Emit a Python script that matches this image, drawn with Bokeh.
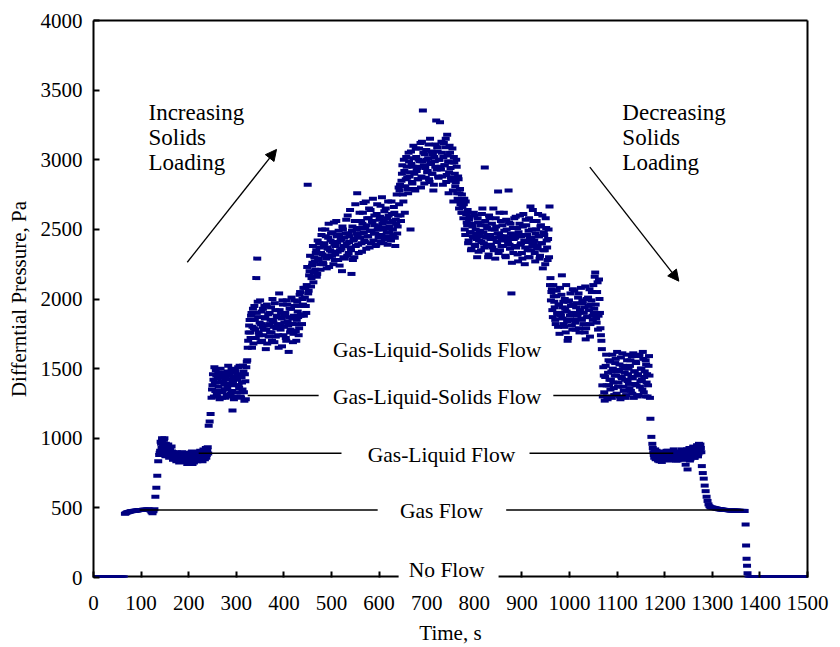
import numpy as np
from bokeh.plotting import figure
from bokeh.models import Label, Arrow, NormalHead, FixedTicker, ColumnDataSource, LinearAxis
from bokeh.embed import file_html
from bokeh.resources import INLINE

# ---------------- data (differential pressure, Pa) ----------------
# each phase: start time (s), sampling step (s), pressure readings
p_no_flow_1 = [0, 0, 0, 0, 0, 0, 0, 0, 0, 0, 0, 0, 0, 0, 0, 0, 0, 0, 0, 0,
               0, 0, 0, 0, 0, 0, 0, 0, 0, 0, 0, 0, 0]
p_gas_1 = [458, 462, 466, 469, 471, 473, 475, 476, 477, 478, 479, 480, 481, 482, 483, 484,
           484, 485, 485, 486, 486, 487, 487, 488, 488, 488, 486, 480, 468, 462, 475, 490]
p_rise_gl = [580, 645, 730, 835]
p_gas_liquid_1 = [880, 910, 960, 1000, 940, 990, 905, 960, 880, 930, 870, 915, 890, 940, 865, 900,
                  850, 880, 835, 890, 860, 825, 875, 850, 900, 840, 870, 830, 885, 850, 820, 870,
                  845, 895, 860, 815, 880, 850, 900, 870, 835, 885, 860, 910, 845, 880, 865, 900,
                  850, 930, 880, 935]
p_gas_liquid_1_odd = [895, 975, 930, 985, 915, 1000, 870, 945, 900, 955, 860, 920, 875, 905, 845,
                      885, 870, 860, 900, 840, 885, 850, 830, 880, 860, 845, 895, 835, 870, 815,
                      860, 880, 830, 870, 905, 850, 825, 890, 860, 880, 840, 900, 870, 850, 890,
                      835, 920, 870, 900, 860, 915, 890]
p_rise_gls = [1090, 1120, 1175]
p_gls_1 = [1290, 1380, 1420, 1510, 1340, 1450, 1300, 1470, 1400, 1330, 1440, 1290, 1410, 1470,
           1350, 1430, 1310, 1480, 1390, 1450, 1320, 1500, 1200, 1440, 1380, 1480, 1300, 1420,
           1510, 1360, 1450, 1290, 1400, 1520, 1330, 1460, 1280, 1550]
p_gls_1_odd = [1350, 1460, 1300, 1400, 1490, 1320, 1430, 1370, 1280, 1500, 1410, 1340, 1460,
               1390, 1290, 1450, 1360, 1520, 1300, 1420, 1470, 1340, 1400, 1280, 1490, 1430,
               1330, 1460, 1380, 1520, 1300, 1440, 1350, 1480, 1270, 1410, 1510, 1560]
p_gls_2 = [1650, 1760, 1850, 1720, 1900, 1800, 1680, 1950, 1780, 2150, 2290, 1870, 1740, 1990,
           1820, 1700, 1930, 1780, 1860, 1640, 1960, 1810, 1730, 1900, 1850, 1760, 2000, 1830,
           1690, 1920, 1790, 1870, 1740, 2040, 1820, 1900, 1660, 1960, 1800, 1880, 1720, 1990,
           1840, 1620, 1930, 1780, 2010, 1860, 1750, 1950, 1820, 1700, 1980, 1870, 1790, 2050,
           1890, 1820, 1960]
p_gls_2_odd = [1700, 1810, 1760, 1880, 1650, 1930, 1790, 1850, 1720, 1900, 1980, 1760, 1830,
               1690, 1910, 1800, 1740, 1950, 1870, 1780, 1680, 1890, 1820, 1760, 1940, 1700,
               1850, 1800, 1970, 1730, 1880, 1810, 1650, 1920, 1780, 1860, 1990, 1740, 1830,
               1900, 1700, 1960, 1810, 1870, 1760, 1930, 1820, 1690, 1880, 1990, 1770, 1850,
               1910, 1740, 2030, 1880, 1950, 2000, 2080]
p_gls_3 = [1880, 2010, 1950, 2100, 2820, 2060, 2200, 1990, 2150, 2260, 2120, 2300, 2210, 2350,
           2180, 2290, 2400, 2250, 2330, 2500, 2260, 2380, 2310, 2450, 2220, 2360, 2540, 2300,
           2420, 2340, 2480, 2250, 2390, 2320, 2560, 2410, 2280, 2460, 2350, 2430, 2200, 2500,
           2380, 2290, 2470, 2400, 2600, 2330, 2450, 2370, 2180, 2520, 2420, 2300, 2680, 2470,
           2760, 2390, 2510, 2440, 2560, 2340, 2620, 2480, 2410, 2700, 2530, 2450, 2580, 2370,
           2640, 2490, 2550, 2420, 2600, 2470, 2390, 2680, 2520, 2450, 2590, 2410, 2730, 2500,
           2560, 2430, 2650, 2480, 2390, 2600, 2520, 2440, 2700, 2560, 2460, 2620, 2380, 2540,
           2470, 2600]
p_gls_3_odd = [1950, 2080, 1900, 2230, 2040, 2170, 2310, 2090, 2240, 2380, 2190, 2270, 2330,
               2160, 2420, 2280, 2370, 2210, 2460, 2320, 2250, 2400, 2500, 2290, 2370, 2440,
               2230, 2350, 2470, 2310, 2410, 2550, 2280, 2380, 2450, 2340, 2490, 2240, 2420,
               2360, 2520, 2300, 2440, 2380, 2570, 2310, 2470, 2410, 2640, 2350, 2490, 2280,
               2430, 2560, 2380, 2500, 2450, 2330, 2620, 2470, 2400, 2540, 2690, 2420, 2510,
               2360, 2580, 2450, 2650, 2490, 2400, 2560, 2720, 2470, 2530, 2380, 2610, 2500,
               2440, 2570, 2670, 2460, 2540, 2400, 2630, 2510, 2450, 2580, 2700, 2480, 2550,
               2420, 2610, 2500, 2660, 2440, 2570, 2750, 2520, 2800]
p_gls_4 = [2680, 2820, 2560, 2900, 2750, 3000, 2620, 2860, 2950, 2790, 3050, 2880, 2500, 2970,
           2830, 3100, 2900, 2780, 3020, 2940, 2860, 3080, 2990, 2800, 3130, 3354, 2960, 3040,
           2870, 3000, 2920, 3110, 2840, 2980, 3060, 2900, 2780, 3020, 2950, 3282, 3090, 2880,
           3000, 3270, 2930, 3050, 2820, 3120, 2960, 3150, 2890, 3030, 2760, 3100, 2940, 2850,
           3080, 2700, 2980, 2810, 3000, 2760, 2880, 2650, 2790, 2700]
p_gls_4_odd = [2780, 2600, 2850, 2960, 2700, 2920, 2810, 3020, 2870, 2760, 2990, 2910, 3060,
               2840, 2950, 3010, 2790, 3080, 2920, 2860, 3000, 2950, 3120, 2880, 2990, 3050,
               2830, 2940, 3070, 2910, 3010, 2860, 3150, 2970, 2900, 3040, 2820, 2990, 3110,
               2930, 3060, 2870, 3000, 2950, 3130, 2880, 3020, 2960, 3090, 2840, 3180, 2990,
               2910, 3050, 2870, 2980, 2780, 3020, 2900, 2840, 2950, 2720, 2860, 2760, 2680,
               2620]
p_gls_3b = [2750, 2620, 2680, 2500, 2700, 2550, 2640, 2420, 2590, 2480, 2360, 2520, 2440, 2600,
            2380, 2470, 2300, 2550, 2420, 2490, 2350, 2610, 2450, 2400, 2944, 2530, 2380, 2460,
            2320, 2580, 2430, 2500, 2370, 2650, 2440, 2290, 2520, 2410, 2772, 2470, 2350, 2560,
            2430, 2380, 2620, 2450, 2300, 2500, 2420, 2779, 2390, 2540, 2040, 2460, 2330, 2580,
            2440, 2370, 2510, 2270, 2450, 2600, 2400, 2330, 2520, 2460, 2250, 2570, 2410, 2350,
            2490, 2300, 2665, 2440, 2380, 2560, 2420, 2270, 2500, 2360, 2610, 2450, 2310, 2530,
            2400, 2220, 2480, 2350, 2580, 2420, 2280, 2500]
p_gls_3b_odd = [2660, 2580, 2720, 2460, 2610, 2530, 2400, 2570, 2480, 2350, 2540, 2450, 2620,
                2390, 2500, 2430, 2580, 2340, 2460, 2530, 2410, 2650, 2480, 2370, 2560, 2440,
                2510, 2300, 2600, 2460, 2390, 2540, 2430, 2350, 2500, 2580, 2410, 2470, 2330,
                2620, 2450, 2380, 2530, 2420, 2490, 2310, 2570, 2440, 2400, 2550, 2360, 2470,
                2260, 2510, 2430, 2380, 2590, 2460, 2320, 2480, 2540, 2390, 2450, 2290, 2610,
                2420, 2370, 2530, 2460, 2300, 2580, 2430, 2350, 2500, 2640, 2410, 2330, 2470,
                2560, 2380, 2450, 2290, 2520, 2400, 2600, 2350, 2460, 2250, 2510, 2370, 2430,
                2300]
p_gls_2b = [2665, 2150, 2050, 1920, 2100, 1980, 1850, 2020, 1900, 1800, 1960, 2080, 1880, 2170,
            1940, 1820, 2000, 1760, 1910, 1700, 1980, 1850, 2040, 1900, 1780, 1960, 2060, 1830,
            1940, 1880, 2010, 1790, 1920, 2080, 1850, 1970, 1900, 1760, 1710, 2000, 1870, 1950,
            2070, 1820, 1990, 1880, 2100, 1930, 2190, 1860, 2050, 1780, 2140, 1900, 1740]
p_gls_2b_odd = [2100, 1990, 2070, 1870, 2020, 1940, 1820, 2060, 1890, 1960, 1750, 1900, 2030,
                1860, 1980, 1800, 1930, 2100, 1840, 1720, 1990, 1880, 1950, 1810, 2070, 1900,
                1850, 1780, 1970, 1890, 2040, 1760, 1910, 1860, 1990, 1820, 1940, 2090, 1790,
                1870, 2010, 1920, 1730, 1960, 2050, 1850, 1900, 2160, 1960, 1830, 2120, 1880,
                2000, 1790, 1700]
p_gls_1b = [1640, 1300, 1450, 1270, 1520, 1380, 1280, 1560, 1420, 1350, 1480, 1600, 1400, 1310,
            1540, 1450, 1620, 1370, 1490, 1300, 1580, 1430, 1520, 1340, 1470, 1290, 1600, 1410,
            1500, 1360, 1560, 1440, 1320, 1610, 1480, 1390, 1540, 1300, 1460, 1590, 1370, 1500,
            1420, 1620, 1330, 1480, 1560, 1400, 1300, 1520, 1450]
p_gls_1b_odd = [1380, 1510, 1330, 1440, 1600, 1300, 1470, 1380, 1550, 1420, 1290, 1500, 1360,
                1450, 1570, 1320, 1480, 1400, 1530, 1280, 1440, 1610, 1370, 1500, 1420, 1310,
                1560, 1460, 1390, 1520, 1340, 1590, 1430, 1290, 1480, 1550, 1380, 1450, 1310,
                1600, 1410, 1500, 1350, 1570, 1440, 1300, 1530, 1460, 1380, 1590, 1290]
p_fall_gl = [1140, 1010]
p_gas_liquid_2 = [960, 900, 860, 920, 850, 880, 840, 895, 860, 870, 830, 900, 855, 880, 845, 910,
                  860, 875, 840, 900, 860, 880, 850, 895, 865, 840, 905, 870, 850, 890, 860, 920,
                  870, 845, 900, 810, 880, 776, 860, 930, 850, 890, 870, 940, 860, 910, 880, 950,
                  870, 960, 900, 930]
p_gas_liquid_2_odd = [930, 880, 900, 850, 910, 865, 890, 835, 880, 900, 850, 875, 905, 860, 885,
                      850, 910, 870, 845, 895, 860, 880, 920, 855, 890, 870, 840, 900, 860, 885,
                      875, 850, 905, 870, 890, 855, 920, 865, 900, 840, 880, 910, 870, 935, 860,
                      900, 880, 945, 890, 920, 955, 900]
p_fall_gas = [800, 750, 710, 660, 620, 580, 550, 525, 512, 505]
p_gas_2 = [503, 502, 500, 499, 497, 495, 494, 492, 491, 490, 489, 488, 487, 486, 485, 485,
           484, 484, 483, 483, 482, 482, 481, 481, 481, 480, 480, 480, 479, 479, 479, 478,
           478, 478, 478, 478]
p_fall_none = [380, 230, 135, 85, 30]
p_no_flow_2 = [0, 0, 0, 0, 0, 0, 0, 0, 0, 0, 0, 0, 0, 0, 0, 0, 0, 0, 0, 0, 0,
               0, 0, 0, 0, 0, 0, 0, 0, 0, 0, 0, 0, 0, 0, 0, 0, 0, 0, 0, 0, 0,
               0, 0, 0, 0, 0, 0, 0, 0, 0, 0, 0, 0, 0, 0, 0, 0, 0, 0, 0, 0, 0]

phase_values = [p_no_flow_1, p_gas_1, p_rise_gl, p_gas_liquid_1, p_gas_liquid_1_odd, p_rise_gls,
                p_gls_1, p_gls_1_odd, p_gls_2, p_gls_2_odd, p_gls_3, p_gls_3_odd, p_gls_4,
                p_gls_4_odd, p_gls_3b, p_gls_3b_odd, p_gls_2b, p_gls_2b_odd, p_gls_1b,
                p_gls_1b_odd, p_fall_gl, p_gas_liquid_2, p_gas_liquid_2_odd, p_fall_gas, p_gas_2,
                p_fall_none, p_no_flow_2]
phase_start_s = [0, 66, 130, 138, 139, 242, 248, 249, 324, 325, 442, 443, 642, 643, 774, 775,
                 958, 959, 1068, 1069, 1170, 1174, 1175, 1278, 1298, 1370, 1376]
phase_step_s = [2, 2, 2, 2, 2, 2, 2, 2, 2, 2, 2, 2, 2, 2, 2, 2, 2, 2, 2, 2, 2, 2, 2, 2, 2, 1, 2]

# flow-regime reference lines (Pa) and their time extents (s)
regime_level = [485, 485, 893, 893, 1307, 1307]
regime_from_s = [97, 867, 221, 916, 324, 966]
regime_to_s = [597, 1366, 521, 1218, 473, 1118]

# time axis line is interrupted behind the "No Flow" note
axis_piece_from_s = [0, 851]
axis_piece_to_s = [641, 1500]

x_ticks = list(range(0, 1501, 100))
y_ticks = list(range(0, 4001, 500))

# ---------------- build ----------------
times, press = [], []
for vals, t0, dt in zip(phase_values, phase_start_s, phase_step_s):
    times.extend([t0 + dt * i for i in range(len(vals))])
    press.extend(vals)
src = ColumnDataSource(dict(t=times, p=press))

FONT = "Liberation Serif"
p = figure(width=840, height=647, x_range=(0, 1500), y_range=(0, 4000),
           output_backend="svg", toolbar_location=None,
           min_border_left=93, min_border_right=33, min_border_top=20, min_border_bottom=70,
           background_fill_color="white", border_fill_color="white")
p.grid.visible = False
p.outline_line_color = None

# x axis line drawn as pieces (so it can break under the "No Flow" note)
p.segment(x0=axis_piece_from_s, y0=[0, 0], x1=axis_piece_to_s, y1=[0, 0],
          line_color="black", line_width=4)

p.rect(x="t", y="p", width=8, height=4, width_units="screen", height_units="screen",
       source=src, fill_color="#000080", line_color=None)

p.segment(x0=regime_from_s, y0=regime_level, x1=regime_to_s, y1=regime_level,
          line_color="black", line_width=1.5)

for ax in (p.xaxis[0], p.yaxis[0]):
    ax.axis_line_width = 2
    ax.axis_line_color = "black"
    ax.major_tick_in = 6
    ax.major_tick_out = 0
    ax.major_tick_line_width = 2
    ax.minor_tick_line_color = None
    ax.major_label_text_font = FONT
    ax.major_label_text_font_size = "21px"
    ax.major_label_text_color = "black"
    ax.axis_label_text_font = FONT
    ax.axis_label_text_font_size = "21px"
    ax.axis_label_text_font_style = "normal"
    ax.axis_label_text_color = "black"
p.xaxis[0].axis_line_color = None

p.xaxis.ticker = FixedTicker(ticks=x_ticks)
p.yaxis.ticker = FixedTicker(ticks=y_ticks)
p.xaxis.axis_label = "Time, s"
p.yaxis.axis_label = "Differntial Pressure, Pa"
p.xaxis.major_label_standoff = 18
p.xaxis.axis_label_standoff = 8
p.yaxis.major_label_standoff = 11
p.yaxis.axis_label_standoff = 7

# plain frame lines on top and right
for place in ("above", "right"):
    fr = LinearAxis(ticker=FixedTicker(ticks=[]), axis_line_width=2, axis_line_color="black",
                    major_tick_in=0, major_tick_out=0, minor_tick_line_color=None,
                    major_label_standoff=0, major_label_text_font_size="1px")
    p.add_layout(fr, place)

def add_label(x, y, text, size="21.5px", align="center", **kw):
    p.add_layout(Label(x=x, y=y, text=text, text_font=FONT, text_font_size=size,
                       text_color="black", text_align=align, text_baseline="middle", **kw))

add_label(722, 1632, "Gas-Liquid-Solids Flow")
add_label(722, 1293, "Gas-Liquid-Solids Flow")
add_label(731, 882, "Gas-Liquid Flow")
add_label(731, 475, "Gas Flow")
add_label(742, 52, "No Flow", background_fill_color="white")

side_rows = [3336, 3159, 2977]
for yv, word in zip(side_rows, ["Increasing", "Solids", "Loading"]):
    add_label(115.5, yv, word, size="23px", align="left")
for yv, word in zip(side_rows, ["Decreasing", "Solids", "Loading"]):
    add_label(1111, yv, word, size="23px", align="left")

p.add_layout(Arrow(end=NormalHead(size=11, fill_color="black", line_color="black"),
                   x_start=197, y_start=2264, x_end=384.5, y_end=3074,
                   line_color="black", line_width=1.3))
p.add_layout(Arrow(end=NormalHead(size=11, fill_color="black", line_color="black"),
                   x_start=1042.7, y_start=2947, x_end=1229.7, y_end=2128,
                   line_color="black", line_width=1.3))

open("out.html", "w").write(file_html(p, INLINE))
